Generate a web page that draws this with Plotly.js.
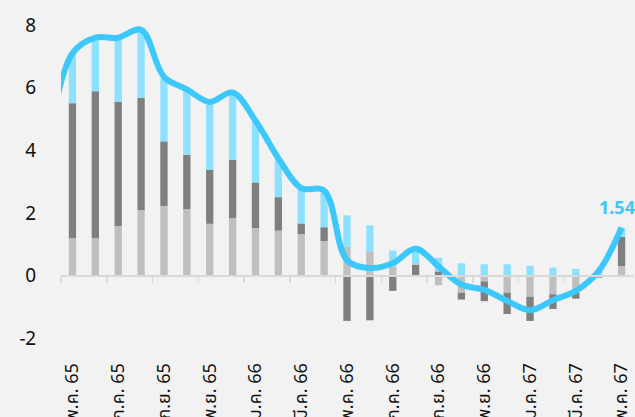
<!DOCTYPE html>
<html>
<head>
<meta charset="utf-8">
<script src="https://cdn.plot.ly/plotly-3.0.1.min.js"></script>
<style>
  html, body { margin: 0; padding: 0; background: #F2F2F2; }
  #chart { width: 635px; height: 417px; }
</style>
</head>
<body>
<div id="chart"></div>
<script>
// Months (index 0 = พ.ค. 65 ... 24 = พ.ค. 67)
const monthIndex = [0,1,2,3,4,5,6,7,8,9,10,11,12,13,14,15,16,17,18,19,20,21,22,23,24];
const tickIndex = [0,2,4,6,8,10,12,14,16,18,20,22,24];
const tickLabels = ["พ.ค. 65","ก.ค. 65","ก.ย. 65","พ.ย. 65","ม.ค. 66","มี.ค. 66","พ.ค. 66","ก.ค. 66","ก.ย. 66","พ.ย. 66","ม.ค. 67","มี.ค. 67","พ.ค. 67"];

// Stacked components
const lightGray = [1.20,1.20,1.59,2.10,2.23,2.13,1.66,1.84,1.52,1.44,1.33,1.11,0.92,0.78,0.28,0.00,-0.30,-0.54,-0.18,-0.54,-0.67,-0.59,-0.55,0.00,0.31];
const darkGray  = [4.31,4.69,3.97,3.58,2.06,1.73,1.72,1.86,1.46,1.07,0.34,0.44,-1.44,-1.42,-0.48,0.36,0.14,-0.22,-0.63,-0.68,-0.77,-0.47,-0.18,-0.06,0.93];
const lightBlue = [1.59,1.71,2.00,2.17,2.00,2.09,2.12,2.10,1.97,1.24,1.07,1.10,1.01,0.83,0.53,0.42,0.43,0.40,0.37,0.37,0.32,0.26,0.22,0.15,0.28];

// Headline line (starts one month earlier, เม.ย. 65, at index -1)
const lineIndex = [-1,0,1,2,3,4,5,6,7,8,9,10,11,12,13,14,15,16,17,18,19,20,21,22,23,24];
const lineVals  = [4.4,7.1,7.6,7.6,7.85,6.35,5.95,5.55,5.85,4.95,3.75,2.8,2.72,0.5,0.25,0.4,0.86,0.3,-0.28,-0.45,-0.8,-1.1,-0.78,-0.48,0.15,1.54];

const yMin = -2.4, yMax = 8.1;
const xMin = -0.5, xMax = 24.5;
const lineColor = "#3CC8FA";

const barW = 0.32;
const traces = [
  {type:"bar", x:monthIndex, y:lightGray, width:barW, marker:{color:"#BFBFBF"}, hoverinfo:"skip"},
  {type:"bar", x:monthIndex, y:darkGray,  width:barW, marker:{color:"#7F7F7F"}, hoverinfo:"skip"},
  {type:"bar", x:monthIndex, y:lightBlue, width:barW, marker:{color:"#8EE0FF"}, hoverinfo:"skip"},
  {type:"scatter", mode:"lines", x:lineIndex, y:lineVals, xaxis:"x2", yaxis:"y",
   line:{color:lineColor, width:6, shape:"spline", smoothing:1}, hoverinfo:"skip"}
];

const boundaryTicks = [];
for (let i = 0; i < tickIndex.length - 1; i++) boundaryTicks.push(tickIndex[i] - 0.5);

const layout = {
  width: 635, height: 417,
  margin: {l:61, r:2, t:22, b:66},
  paper_bgcolor: "#F2F2F2",
  plot_bgcolor: "#F2F2F2",
  barmode: "relative",
  showlegend: false,
  font: {family: "Noto Sans Thai, Noto Sans, sans-serif", color: "#111"},
  xaxis: {
    type: "linear", range: [xMin, xMax],
    tickmode: "array", tickvals: tickIndex, ticktext: tickLabels,
    tickangle: -90, tickfont: {size: 18, color: "#111"},
    ticklabeloverflow: "allow",
    showgrid: false, zeroline: false, showline: false,
    ticks: "outside", ticklen: 4, tickcolor: "rgba(0,0,0,0)"
  },
  xaxis2: {
    type: "linear", range: [xMin, xMax], overlaying: "x", anchor: "free",
    position: (0 - yMin) / (yMax - yMin),
    tickmode: "array", tickvals: boundaryTicks,
    ticks: "outside", ticklen: 6, tickwidth: 1.5, tickcolor: "#D9D9D9",
    showticklabels: false, showgrid: false, zeroline: false,
    showline: true, linecolor: "#D9D9D9", linewidth: 2
  },
  yaxis: {
    range: [yMin, yMax], tickmode: "array", tickvals: [-2,0,2,4,6,8],
    tickfont: {size: 19, color: "#111"},
    showgrid: false, zeroline: false, showline: false,
    ticks: "outside", ticklen: 20, tickcolor: "rgba(0,0,0,0)"
  },
  annotations: [{
    x: lineIndex[lineIndex.length-1], y: lineVals[lineVals.length-1], xref: "x", yref: "y",
    text: lineVals[lineVals.length-1].toFixed(2), showarrow: false,
    xshift: -5, yshift: 21, yanchor: "middle",
    font: {size: 18, color: lineColor, family: "Noto Sans, sans-serif", weight: "bold"}
  }]
};

Plotly.newPlot("chart", traces, layout, {staticPlot: true, displayModeBar: false});
</script>
</body>
</html>
